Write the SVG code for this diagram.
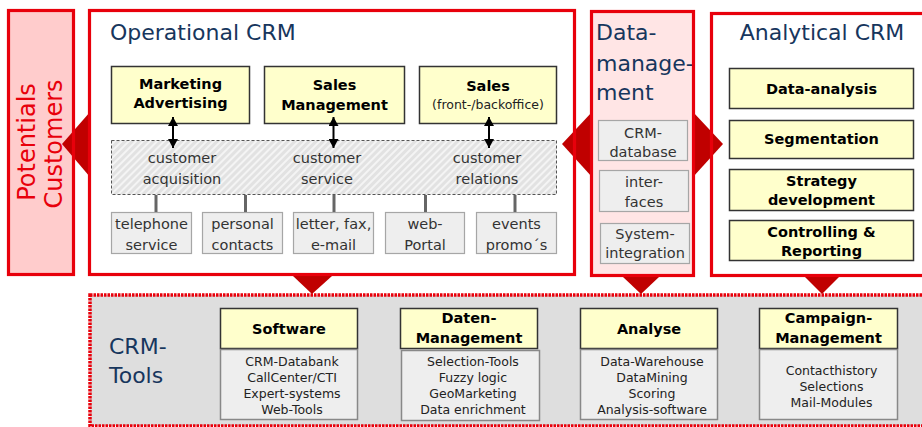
<svg xmlns="http://www.w3.org/2000/svg" width="922" height="427" viewBox="0 0 922 427">
  <style>
    text { font-family: "DejaVu Sans", Verdana, sans-serif; }
    .title { font-size: 22px; fill: #17365d; }
    .cust { font-size: 24px; fill: #e8000b; text-anchor: middle; }
    .bold { font-size: 14.5px; font-weight: bold; fill: #000; text-anchor: middle; }
    .reg { font-size: 14.5px; fill: #333; text-anchor: middle; }
    .small { font-size: 12.5px; fill: #222; text-anchor: middle; }
    .yellow { fill: #ffffcc; stroke: #333; stroke-width: 1.5; }
    .grey { fill: #eeeeee; stroke: #a6a6a6; stroke-width: 1.2; }
    .body { fill: #eeeeee; stroke: #888; stroke-width: 1.5; }
    .frame { fill: none; stroke: #e8000b; stroke-width: 3.2; }
    .wedge { fill: #c00000; }
    .stem { stroke: #666; stroke-width: 3; }
    .dbl { stroke: #000; stroke-width: 2; marker-start: url(#head); marker-end: url(#head); }
  </style>
  <defs>
    <pattern id="hatch" width="5" height="5" patternUnits="userSpaceOnUse" patternTransform="rotate(45)">
      <rect width="5" height="5" fill="#e2e2e2"/>
      <line x1="1" y1="0" x2="1" y2="5" stroke="#f4f4f4" stroke-width="2"/>
    </pattern>
    <marker id="head" viewBox="0 0 9 10" refX="9" refY="5" markerWidth="9" markerHeight="10" markerUnits="userSpaceOnUse" orient="auto-start-reverse">
      <path d="M0,0 L9,5 L0,10 z" fill="#000"/>
    </marker>
  </defs>

  <rect width="922" height="427" fill="#fff"/>

  <!-- panel fills -->
  <g id="customers">
    <rect x="8.5" y="10.5" width="65" height="264" fill="#ffcccc"/>
    <text class="cust" transform="translate(35,142) rotate(-90)">Potentials</text>
    <text class="cust" transform="translate(62,144) rotate(-90)">Customers</text>
  </g>
  <g id="data-management">
    <rect x="591.5" y="11.5" width="102" height="264" fill="#ffe5e5"/>
    <text class="title" x="596" y="40">Data-</text>
    <text class="title" x="596" y="71">manage-</text>
    <text class="title" x="596" y="100">ment</text>
  </g>
  <g id="crm-tools">
    <rect x="90" y="295" width="850" height="131" fill="#dedede" stroke="#e8000b" stroke-width="3.5" stroke-dasharray="2.5 1"/>
    <text class="title" x="109" y="354">CRM-</text>
    <text class="title" x="109" y="383">Tools</text>
  </g>

  <!-- operational CRM -->
  <g id="operational">
    <text class="title" x="110" y="40">Operational CRM</text>
  </g>
  <g id="marketing">
    <rect class="yellow" x="111.5" y="66.5" width="138" height="57"/>
    <text class="bold" x="180.5" y="89">Marketing</text>
    <text class="bold" x="180.5" y="108">Advertising</text>
  </g>
  <g id="sales-management">
    <rect class="yellow" x="264.5" y="66.5" width="140" height="57"/>
    <text class="bold" x="334.5" y="90">Sales</text>
    <text class="bold" x="334.5" y="110">Management</text>
  </g>
  <g id="sales">
    <rect class="yellow" x="419.5" y="66.5" width="137" height="57"/>
    <text class="bold" x="488" y="91">Sales</text>
    <text class="small" x="488" y="109" fill="#333">(front-/backoffice)</text>
  </g>
  <g id="customer-band">
    <rect x="111.5" y="140.5" width="445" height="54" fill="url(#hatch)" stroke="#555" stroke-width="1" stroke-dasharray="3 2"/>
    <text class="reg" x="182" y="163">customer</text>
    <text class="reg" x="182" y="184">acquisition</text>
    <text class="reg" x="327" y="163">customer</text>
    <text class="reg" x="327" y="184">service</text>
    <text class="reg" x="487" y="163">customer</text>
    <text class="reg" x="487" y="184">relations</text>
  </g>
  <g id="telephone">
    <rect class="grey" x="111.5" y="212.5" width="80" height="41"/>
    <text class="reg" x="151.5" y="229">telephone</text>
    <text class="reg" x="151.5" y="250">service</text>
  </g>
  <g id="personal">
    <rect class="grey" x="202.5" y="212.5" width="80" height="41"/>
    <text class="reg" x="242.5" y="229">personal</text>
    <text class="reg" x="242.5" y="250">contacts</text>
  </g>
  <g id="letter">
    <rect class="grey" x="293.5" y="212.5" width="80" height="41"/>
    <text class="reg" x="333.5" y="229">letter, fax,</text>
    <text class="reg" x="333.5" y="250">e-mail</text>
  </g>
  <g id="web-portal">
    <rect class="grey" x="385.5" y="212.5" width="79" height="41"/>
    <text class="reg" x="425" y="229">web-</text>
    <text class="reg" x="425" y="250">Portal</text>
  </g>
  <g id="events">
    <rect class="grey" x="476.5" y="212.5" width="80" height="41"/>
    <text class="reg" x="516.5" y="229">events</text>
    <text class="reg" x="516.5" y="250">promo´s</text>
  </g>

  <!-- data management items -->
  <g id="crm-database">
    <rect class="grey" x="598.5" y="120.5" width="89" height="40"/>
    <text class="reg" x="643" y="138">CRM-</text>
    <text class="reg" x="643" y="157">database</text>
  </g>
  <g id="interfaces">
    <rect class="grey" x="599.5" y="170.5" width="89" height="41"/>
    <text class="reg" x="644" y="187">inter-</text>
    <text class="reg" x="644" y="207">faces</text>
  </g>
  <g id="system-integration">
    <rect class="grey" x="600.5" y="223.5" width="89" height="40"/>
    <text class="reg" x="645" y="239">System-</text>
    <text class="reg" x="645" y="258">integration</text>
  </g>

  <!-- analytical CRM -->
  <g id="analytical">
    <text class="title" x="822" y="40" text-anchor="middle">Analytical CRM</text>
  </g>
  <g id="data-analysis">
    <rect class="yellow" x="729.5" y="68.5" width="184" height="40"/>
    <text class="bold" x="821.5" y="94">Data-analysis</text>
  </g>
  <g id="segmentation">
    <rect class="yellow" x="729.5" y="120.5" width="184" height="38"/>
    <text class="bold" x="821.5" y="144">Segmentation</text>
  </g>
  <g id="strategy">
    <rect class="yellow" x="729.5" y="169.5" width="184" height="41"/>
    <text class="bold" x="821.5" y="186">Strategy</text>
    <text class="bold" x="821.5" y="205">development</text>
  </g>
  <g id="controlling">
    <rect class="yellow" x="729.5" y="220.5" width="184" height="40"/>
    <text class="bold" x="821.5" y="237">Controlling &amp;</text>
    <text class="bold" x="821.5" y="256">Reporting</text>
  </g>

  <!-- CRM tools -->
  <g id="software">
    <rect class="yellow" x="220.5" y="308.5" width="137" height="40"/>
    <rect class="body" x="220.5" y="349.5" width="137" height="70"/>
    <text class="bold" x="289" y="334">Software</text>
    <text class="small" x="292" y="366">CRM-Databank</text>
    <text class="small" x="292" y="382">CallCenter/CTI</text>
    <text class="small" x="292" y="398">Expert-systems</text>
    <text class="small" x="292" y="414">Web-Tools</text>
  </g>
  <g id="daten-management">
    <rect class="yellow" x="400.5" y="308.5" width="137" height="40"/>
    <rect class="body" x="401.5" y="350.5" width="138" height="70"/>
    <text class="bold" x="469" y="323">Daten-</text>
    <text class="bold" x="469" y="343">Management</text>
    <text class="small" x="473" y="366">Selection-Tools</text>
    <text class="small" x="473" y="382">Fuzzy logic</text>
    <text class="small" x="473" y="398">GeoMarketing</text>
    <text class="small" x="473" y="414">Data enrichment</text>
  </g>
  <g id="analyse">
    <rect class="yellow" x="580.5" y="308.5" width="137" height="40"/>
    <rect class="body" x="580.5" y="349.5" width="137" height="70"/>
    <text class="bold" x="649" y="334">Analyse</text>
    <text class="small" x="652" y="366">Data-Warehouse</text>
    <text class="small" x="652" y="382">DataMining</text>
    <text class="small" x="652" y="398">Scoring</text>
    <text class="small" x="652" y="414">Analysis-software</text>
  </g>
  <g id="campaign-management">
    <rect class="yellow" x="759.5" y="308.5" width="138" height="40"/>
    <rect class="body" x="759.5" y="349.5" width="138" height="70"/>
    <text class="bold" x="828.5" y="323">Campaign-</text>
    <text class="bold" x="828.5" y="343">Management</text>
    <text class="small" x="831.5" y="375">Contacthistory</text>
    <text class="small" x="831.5" y="391">Selections</text>
    <text class="small" x="831.5" y="407">Mail-Modules</text>
  </g>

  <!-- connectors: wedges, double arrows, stems -->
  <g id="connectors">
    <polygon class="wedge" points="90,112 62,144 90,177"/>
    <polygon class="wedge" points="592,112 562,144 592,177"/>
    <polygon class="wedge" points="693,112 723,144 693,177"/>
    <polygon class="wedge" points="293,276 332,276 312,294"/>
    <polygon class="wedge" points="623,277 659,277 641,294"/>
    <polygon class="wedge" points="805,277 839,277 822,294"/>
    <line class="dbl" x1="173" y1="117" x2="173" y2="148"/>
    <line class="dbl" x1="333.5" y1="117" x2="333.5" y2="148"/>
    <line class="dbl" x1="489" y1="117" x2="489" y2="148"/>
    <line class="stem" x1="156" y1="195" x2="156" y2="212"/>
    <line class="stem" x1="245.5" y1="195" x2="245.5" y2="212"/>
    <line class="stem" x1="334" y1="195" x2="334" y2="212"/>
    <line class="stem" x1="425.5" y1="195" x2="425.5" y2="212"/>
    <line class="stem" x1="515" y1="195" x2="515" y2="212"/>
  </g>

  <!-- red panel frames -->
  <g id="frames">
    <rect class="frame" x="8.5" y="10.5" width="65" height="264"/>
    <rect class="frame" x="89.5" y="10.5" width="485" height="264"/>
    <rect class="frame" x="591.5" y="11.5" width="102" height="264"/>
    <rect class="frame" x="711.5" y="13.5" width="240" height="262"/>
  </g>
</svg>
